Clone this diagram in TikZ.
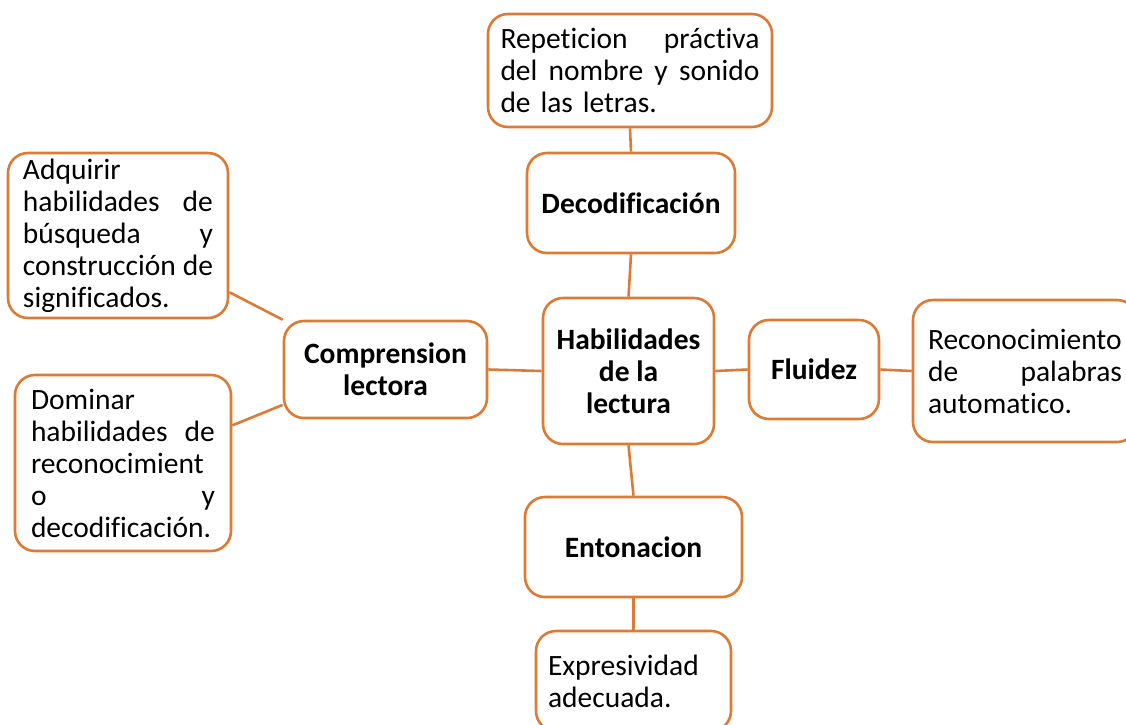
\documentclass[tikz,border=0pt]{standalone}
\usepackage{fontspec}
\setmainfont{Carlito}[Ligatures={NoCommon}]
\definecolor{boxorange}{RGB}{221,122,52}
\newcommand\jline[2]{\leavevmode\hbox to \hsize{#1\hfill #2}}
\begin{document}
\begin{tikzpicture}[x=1pt,y=-1pt,
  box/.style={draw=boxorange, line width=2.6pt, rounded corners=20pt, fill=white,
    inner sep=0pt, font=\fontsize{29.5}{32}\selectfont},
  keybox/.style={box, font=\fontsize{29.5}{32}\selectfont\bfseries, align=center},
  txtbox/.style={box, align=left},
  link/.style={draw=boxorange, line width=2.6pt}]
\useasboundingbox (0,0) rectangle (1126,724);
\clip (0,0) rectangle (1126,724);
\fill[white] (0,0) rectangle (1126,724);

\path
  (630,70.5) coordinate (c-rep)
  (631,203) coordinate (c-dec)
  (628.5,371) coordinate (c-hab)
  (814,369.5) coordinate (c-flu)
  (1025,371) coordinate (c-rec)
  (385.5,369.5) coordinate (c-comp)
  (118,235.5) coordinate (c-adq)
  (123,463) coordinate (c-dom)
  (633.5,547) coordinate (c-ent)
  (633.5,681) coordinate (c-exp);

\node[txtbox, minimum width=284pt, minimum height=113pt, text width=259pt] (rep) at (c-rep)
  {\jline{Repeticion}{práctiva}\\ \jline{del\hfill nombre\hfill y}{sonido}\\ de las letras.};
\node[keybox, minimum width=208pt, minimum height=100pt] (dec) at (c-dec) {Decodificación};
\node[keybox, minimum width=171pt, minimum height=146pt] (hab) at (c-hab) {Habilidades\\de la\\lectura};
\node[keybox, minimum width=130pt, minimum height=99pt] (flu) at (c-flu) {Fluidez};
\node[txtbox, minimum width=224pt, minimum height=142pt, text width=194pt] (rec) at (c-rec)
  {Reconocimiento\\ \jline{de}{palabras}\\ automatico.};
\node[keybox, minimum width=203pt, minimum height=97pt] (comp) at (c-comp) {Comprension\\lectora};
\node[txtbox, minimum width=220pt, minimum height=165pt, text width=190pt] (adq) at (c-adq)
  {Adquirir\\ \jline{habilidades}{de}\\ \jline{búsqueda}{y}\\ \jline{construcción}{de}\\ significados.};
\node[txtbox, minimum width=216pt, minimum height=176pt, text width=184pt] (dom) at (c-dom)
  {Dominar\\ \jline{habilidades}{de}\\ reconocimient\\ \jline{o}{y}\\ decodificación.};
\node[keybox, minimum width=217pt, minimum height=100pt] (ent) at (c-ent) {Entonacion};
\node[txtbox, minimum width=195pt, minimum height=100pt, text width=171pt] (exp) at (c-exp)
  {Expresividad\\ adecuada.};

\draw[link] (rep.south) -- (dec.north);
\draw[link] (dec.south) -- (hab.north);
\draw[link] (hab.south) -- (ent.north);
\draw[link] (ent.south) -- (exp.north);
\draw[link] (hab.west) -- (comp.east);
\draw[link] (hab.east) -- (flu.west);
\draw[link] (flu.east) -- (rec.west);
\draw[link] (adq.-27) -- (comp.north west);
\draw[link] (dom.19) -- (comp.199);
\end{tikzpicture}
\end{document}
